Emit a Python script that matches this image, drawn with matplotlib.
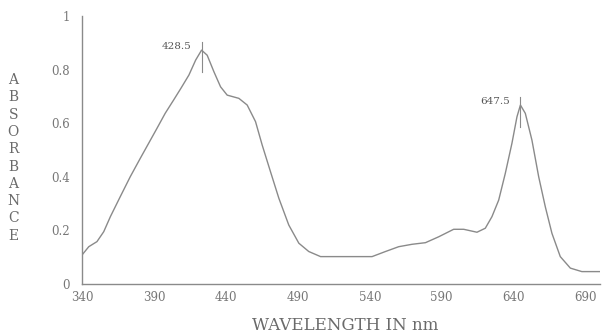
import matplotlib
matplotlib.use("Agg")
from matplotlib import pyplot as plt

# absorbance spectrum
wavelength = [340.0, 344.7, 350.4, 355.1, 359.7, 366.6, 373.5, 380.5, 386.3, 392.1,
              397.8, 403.7, 408.8, 414.3, 419.0, 423.1, 427.0, 431.7, 436.3, 440.9,
              449.0, 454.8, 460.6, 465.2, 471.0, 476.8, 483.7, 490.7, 497.6, 505.8,
              541.6, 550.9, 560.1, 569.4, 578.7, 587.9, 598.3, 605.3, 614.5, 620.3,
              624.9, 629.6, 634.2, 638.8, 642.3, 644.7, 648.1, 652.7, 657.4, 662.0,
              666.6, 672.4, 679.4, 687.4, 700.0]
absorbance = [0.108, 0.139, 0.158, 0.195, 0.251, 0.326, 0.400, 0.469, 0.525, 0.581,
              0.637, 0.687, 0.731, 0.780, 0.836, 0.873, 0.854, 0.792, 0.736, 0.705,
              0.693, 0.668, 0.606, 0.519, 0.419, 0.320, 0.220, 0.152, 0.121, 0.102,
              0.102, 0.121, 0.139, 0.148, 0.154, 0.176, 0.204, 0.204, 0.193, 0.208,
              0.251, 0.313, 0.413, 0.525, 0.624, 0.668, 0.637, 0.537, 0.400, 0.288,
              0.189, 0.102, 0.059, 0.046, 0.046]

peak_pos = [423.1, 644.7]
peak_val = [0.873, 0.668]
peak_labels = ["428.5", "647.5"]

x_ticks = [340, 390, 440, 490, 540, 590, 640, 690]
y_ticks = [0, 0.2, 0.4, 0.6, 0.8, 1]
y_tick_labels = ["0", "0.2", "0.4", "0.6", "0.8", "1"]

grey = "#6a6a6a"
plt.rcParams['font.family'] = ['DejaVu Serif']

fig = plt.figure(figsize=(6.03, 3.36), dpi=100)
ax = fig.add_axes([0.136, 0.155, 0.859, 0.797])

ax.plot(wavelength, absorbance, color="#8a8a8a", linewidth=1.0)

# peak markers with their labels
for xp, yp, lab in zip(peak_pos, peak_val, peak_labels):
    ax.plot([xp, xp], [yp - 0.082, yp + 0.03], color="#8a8a8a", linewidth=0.8)
    ax.text(xp - 7, yp + 0.012, lab, ha="right", va="center", fontsize=7.5, color="#555555")

ax.set_xlim(340, 700)
ax.set_ylim(0, 1)
ax.set_xticks(x_ticks)
ax.set_yticks(y_ticks)
ax.set_yticklabels(y_tick_labels)
ax.tick_params(length=0, labelsize=8.5, colors="#777777")
ax.tick_params(axis="y", pad=9)
ax.tick_params(axis="x", pad=5)

for side in ["top", "right"]:
    ax.spines[side].set_visible(False)
for side in ["left", "bottom"]:
    ax.spines[side].set_color("#8a8a8a")
    ax.spines[side].set_linewidth(1.0)

ax.set_xlabel("WAVELENGTH IN nm", fontsize=12, color=grey)
ax.xaxis.set_label_coords(0.508, -0.122)
fig.text(0.022, 0.53, "\n".join("ABSORBANCE"), ha="center", va="center",
         fontsize=10, color=grey, linespacing=1.3)

fig.savefig("out.png", dpi=100)
plt.close(fig)
